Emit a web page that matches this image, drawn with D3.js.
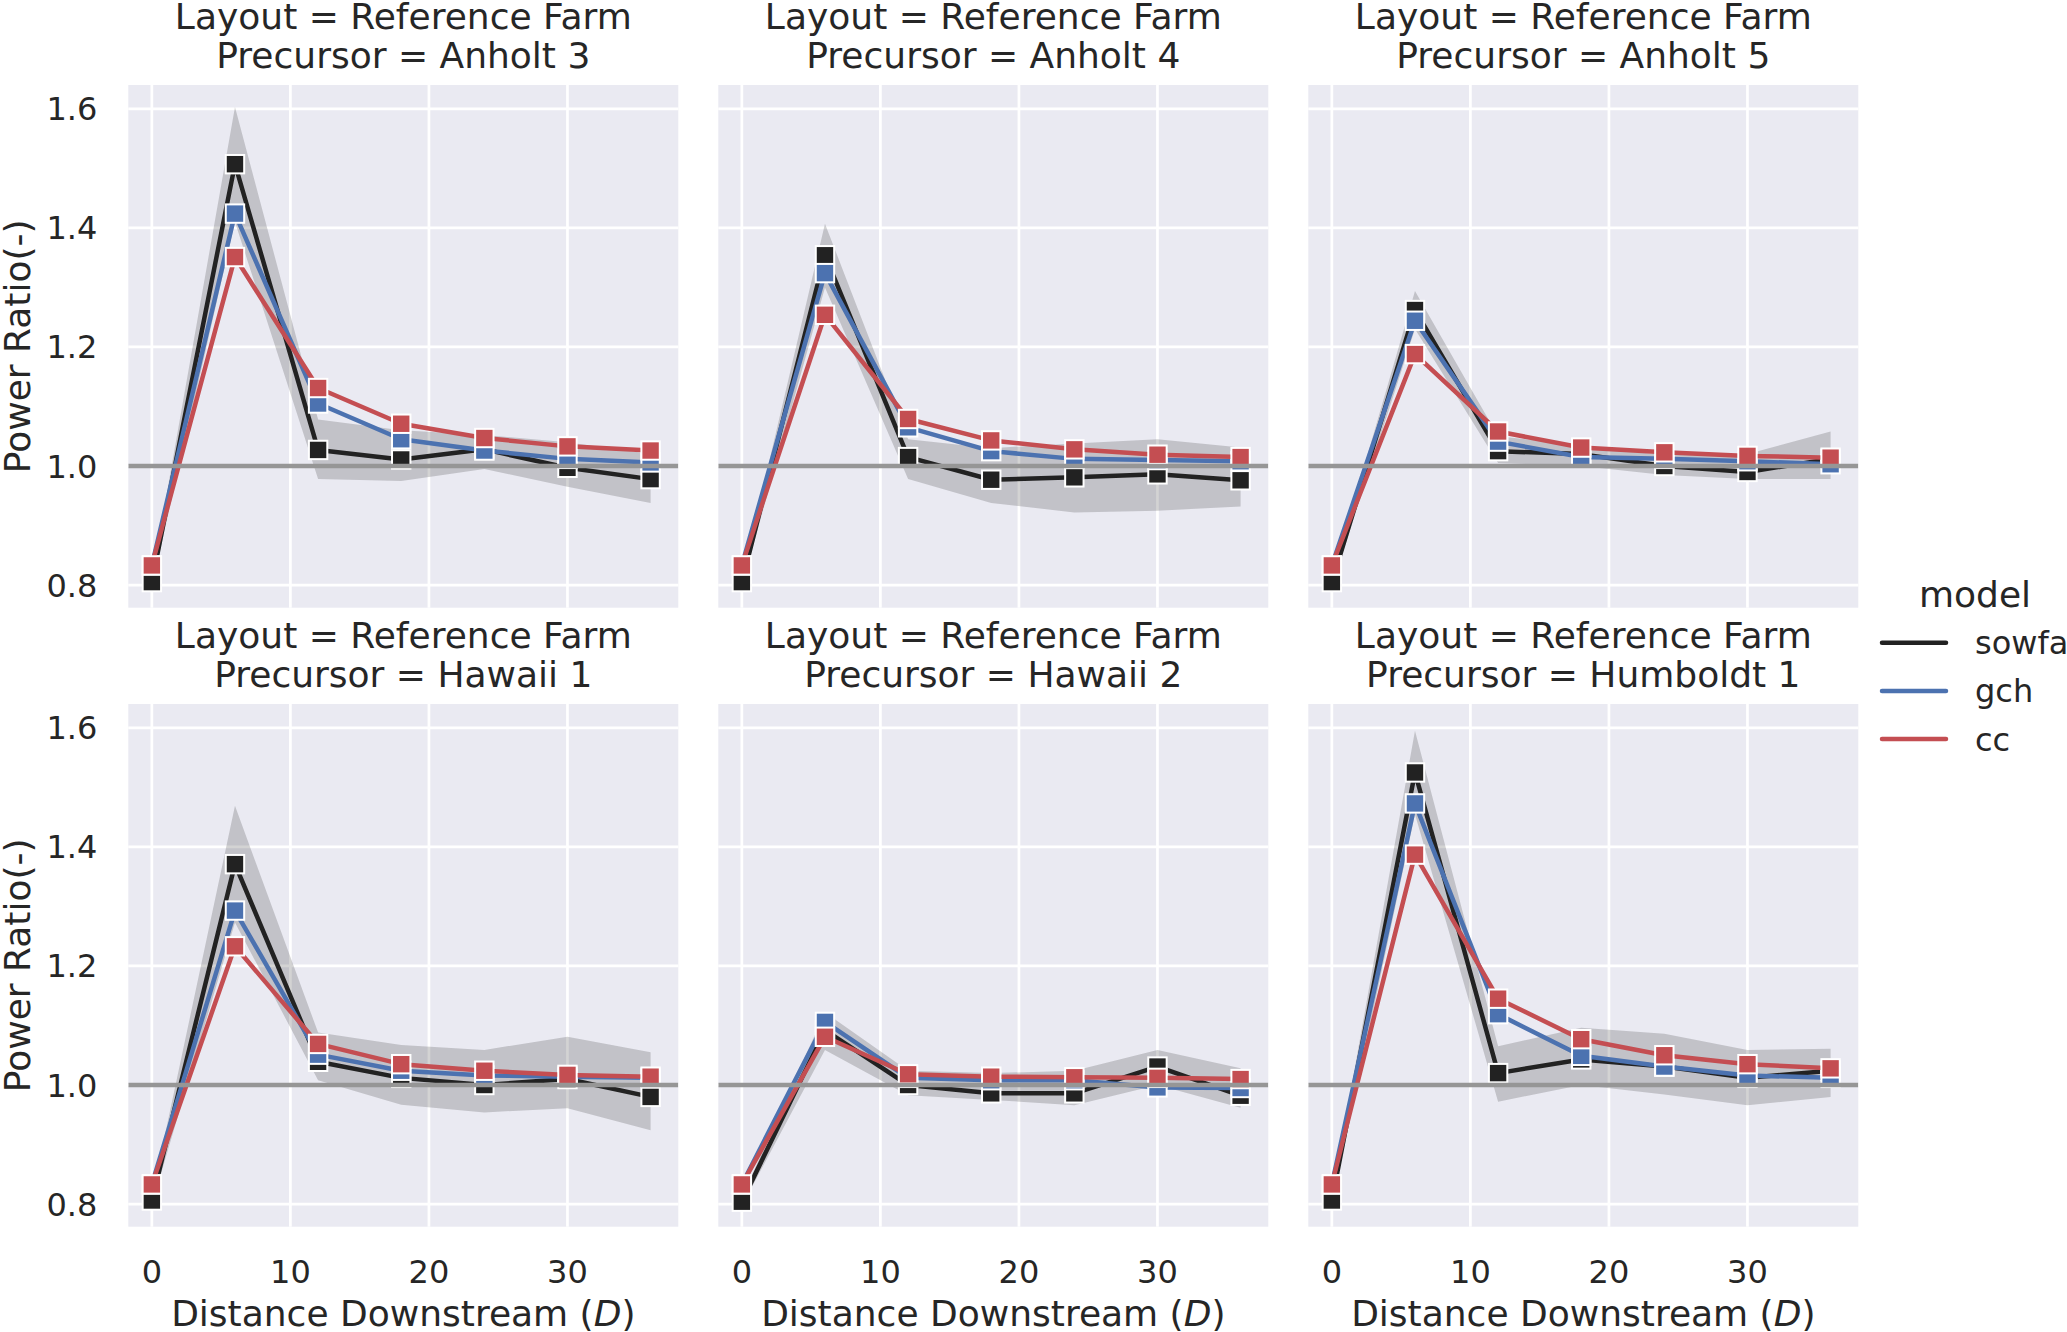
<!DOCTYPE html>
<html>
<head>
<meta charset="utf-8">
<script src="https://cdn.jsdelivr.net/npm/d3@7"></script>
<style>
body {margin:0; background:white;}
text {font-family:"DejaVu Sans", sans-serif; fill:#262626;}
</style>
</head>
<body>
<div id="chart"></div>
<script>

// ---- data ----
var distance = [0, 6, 12, 18, 24, 30, 36];
var layout = "Reference Farm";
var precursors = ["Anholt 3", "Anholt 4", "Anholt 5", "Hawaii 1", "Hawaii 2", "Humboldt 1"];
var models = ["sowfa", "gch", "cc"];

var sowfa = [
	[0.805, 1.507, 1.027, 1.011, 1.028, 0.997, 0.978],
	[0.805, 1.354, 1.015, 0.977, 0.981, 0.986, 0.976],
	[0.805, 1.262, 1.025, 1.020, 1.000, 0.990, 1.012],
	[0.806, 1.371, 1.039, 1.012, 1.000, 1.010, 0.980],
	[0.804, 1.092, 1.000, 0.986, 0.986, 1.031, 0.982],
	[0.806, 1.525, 1.020, 1.043, 1.031, 1.012, 1.024]
];
var gch = [
	[0.833, 1.424, 1.105, 1.045, 1.026, 1.012, 1.006],
	[0.833, 1.324, 1.065, 1.025, 1.012, 1.010, 1.008],
	[0.833, 1.244, 1.041, 1.015, 1.012, 1.008, 1.003],
	[0.833, 1.293, 1.051, 1.024, 1.016, 1.014, 1.012],
	[0.833, 1.106, 1.012, 1.008, 1.008, 0.996, 0.995],
	[0.833, 1.473, 1.119, 1.049, 1.031, 1.016, 1.012]
];
var cc = [
	[0.833, 1.351, 1.131, 1.071, 1.047, 1.033, 1.026],
	[0.833, 1.254, 1.079, 1.043, 1.028, 1.019, 1.015],
	[0.833, 1.188, 1.058, 1.031, 1.023, 1.017, 1.014],
	[0.833, 1.233, 1.069, 1.035, 1.024, 1.017, 1.014],
	[0.833, 1.081, 1.018, 1.014, 1.013, 1.012, 1.010],
	[0.833, 1.387, 1.145, 1.077, 1.050, 1.035, 1.028]
];
// confidence band of sowfa
var sowfaLow = [
	[0.798, 1.410, 0.978, 0.975, 0.995, 0.965, 0.938],
	[0.798, 1.300, 0.978, 0.938, 0.922, 0.925, 0.932],
	[0.798, 1.230, 1.005, 1.000, 0.985, 0.978, 0.978],
	[0.799, 1.273, 1.008, 0.967, 0.954, 0.961, 0.924],
	[0.797, 1.059, 0.983, 0.975, 0.966, 1.000, 0.962],
	[0.799, 1.455, 0.972, 1.000, 0.984, 0.966, 0.980]
];
var sowfaHigh = [
	[0.812, 1.603, 1.078, 1.060, 1.052, 1.040, 1.020],
	[0.812, 1.407, 1.045, 1.030, 1.038, 1.045, 1.031],
	[0.812, 1.294, 1.050, 1.035, 1.018, 1.020, 1.058],
	[0.813, 1.469, 1.088, 1.067, 1.059, 1.081, 1.055],
	[0.811, 1.122, 1.024, 1.020, 1.024, 1.059, 1.028],
	[0.813, 1.595, 1.065, 1.096, 1.086, 1.059, 1.061]
];

var xTicks = [0, 10, 20, 30];
var yTicks = [0.8, 1.0, 1.2, 1.4, 1.6];

var series = {sowfa:sowfa, gch:gch, cc:cc};
var colors = {sowfa:"#222222", gch:"#4C72B0", cc:"#C44E52"};

// ---- layout ----
var W = 2067, H = 1332;
var pw = 550, ph = 522.7;
var lefts = [128.3, 718.3, 1308.3],
	tops = [85, 704];
var ms = 18.4; //marker size

var x = d3.scaleLinear().domain([-1.7, 38.0]).range([0, pw]);
var y = d3.scaleLinear().domain([0.762, 1.640]).range([ph, 0]);

var svg = d3.select('#chart').append('svg')
	.attr('width', W)
	.attr('height', H)
	.style('background', 'white');

var line = d3.line()
	.x(function(d){ return x(d[0]); })
	.y(function(d){ return y(d[1]); });

var area = d3.area()
	.x(function(d){ return x(d[0]); })
	.y0(function(d){ return y(d[1]); })
	.y1(function(d){ return y(d[2]); });

svg.append('defs').append('clipPath').attr('id', 'clip')
	.append('rect').attr('width', pw).attr('height', ph);

precursors.forEach(function(p, i){
	var row = Math.floor(i / 3), col = i % 3;
	var g = svg.append('g')
		.attr('transform', 'translate(' + lefts[col] + ',' + tops[row] + ')');

	g.append('rect')
		.attr('width', pw)
		.attr('height', ph)
		.style('fill', '#EAEAF2');

	// grid
	g.selectAll('.gx').data(xTicks).enter().append('line')
		.attr('x1', function(d){ return x(d); })
		.attr('x2', function(d){ return x(d); })
		.attr('y1', 0).attr('y2', ph)
		.style('stroke', 'white').style('stroke-width', 2.7);
	g.selectAll('.gy').data(yTicks).enter().append('line')
		.attr('x1', 0).attr('x2', pw)
		.attr('y1', function(d){ return y(d); })
		.attr('y2', function(d){ return y(d); })
		.style('stroke', 'white').style('stroke-width', 2.7);

	var plot = g.append('g').attr('clip-path', 'url(#clip)');

	// band for sowfa
	var band = distance.map(function(d, k){ return [d, sowfaLow[i][k], sowfaHigh[i][k]]; });
	plot.append('path')
		.attr('d', area(band))
		.style('fill', '#222222')
		.style('fill-opacity', 0.2)
		.style('stroke', 'none');

	models.forEach(function(m){
		var pts = distance.map(function(d, k){ return [d, series[m][i][k]]; });
		plot.append('path')
			.attr('d', line(pts))
			.style('fill', 'none')
			.style('stroke', colors[m])
			.style('stroke-width', 4.5)
			.style('stroke-linejoin', 'round')
			.style('stroke-linecap', 'round');
		plot.selectAll('.mk-' + m).data(pts).enter().append('rect')
			.attr('x', function(d){ return x(d[0]) - ms / 2; })
			.attr('y', function(d){ return y(d[1]) - ms / 2; })
			.attr('width', ms)
			.attr('height', ms)
			.style('fill', colors[m])
			.style('stroke', 'white')
			.style('stroke-width', 2);
	});

	// reference line at 1
	plot.append('line')
		.attr('x1', 0).attr('x2', pw)
		.attr('y1', y(1)).attr('y2', y(1))
		.style('stroke', '#969696')
		.style('stroke-width', 4.5);

	// title
	var t = g.append('text')
		.attr('text-anchor', 'middle')
		.style('font-size', '36px');
	t.append('tspan').attr('x', pw / 2).attr('y', -56.5).text('Layout = ' + layout);
	t.append('tspan').attr('x', pw / 2).attr('y', -17.5).text('Precursor = ' + p);

	if (col == 0) {
		g.selectAll('.yt').data(yTicks).enter().append('text')
			.attr('x', -31)
			.attr('y', function(d){ return y(d); })
			.attr('dy', '0.36em')
			.attr('text-anchor', 'end')
			.style('font-size', '32px')
			.text(function(d){ return d3.format('.1f')(d); });
		g.append('text')
			.attr('transform', 'translate(' + (30 - lefts[col]) + ',' + (ph / 2) + ') rotate(-90)')
			.attr('text-anchor', 'middle')
			.style('font-size', '36px')
			.text('Power Ratio(-)');
	}
	if (row == 1) {
		g.selectAll('.xt').data(xTicks).enter().append('text')
			.attr('x', function(d){ return x(d); })
			.attr('y', ph + 56)
			.attr('text-anchor', 'middle')
			.style('font-size', '32px')
			.text(function(d){ return d; });
		var xl = g.append('text')
			.attr('x', pw / 2)
			.attr('y', ph + 99)
			.attr('text-anchor', 'middle')
			.style('font-size', '36px');
		xl.append('tspan').text('Distance Downstream (');
		xl.append('tspan').style('font-style', 'italic').text('D');
		xl.append('tspan').text(')');
	}
});

// ---- legend ----
var legend = svg.append('g');
legend.append('text')
	.attr('x', 1975)
	.attr('y', 607)
	.attr('text-anchor', 'middle')
	.style('font-size', '36px')
	.text('model');
models.forEach(function(m, k){
	var ly = 642.7 + k * 48.2;
	legend.append('line')
		.attr('x1', 1882).attr('x2', 1946)
		.attr('y1', ly).attr('y2', ly)
		.style('stroke', colors[m])
		.style('stroke-width', 4.5)
		.style('stroke-linecap', 'round');
	legend.append('text')
		.attr('x', 1975)
		.attr('y', ly + 11.5)
		.style('font-size', '32px')
		.text(m);
});
</script>
</body>
</html>
